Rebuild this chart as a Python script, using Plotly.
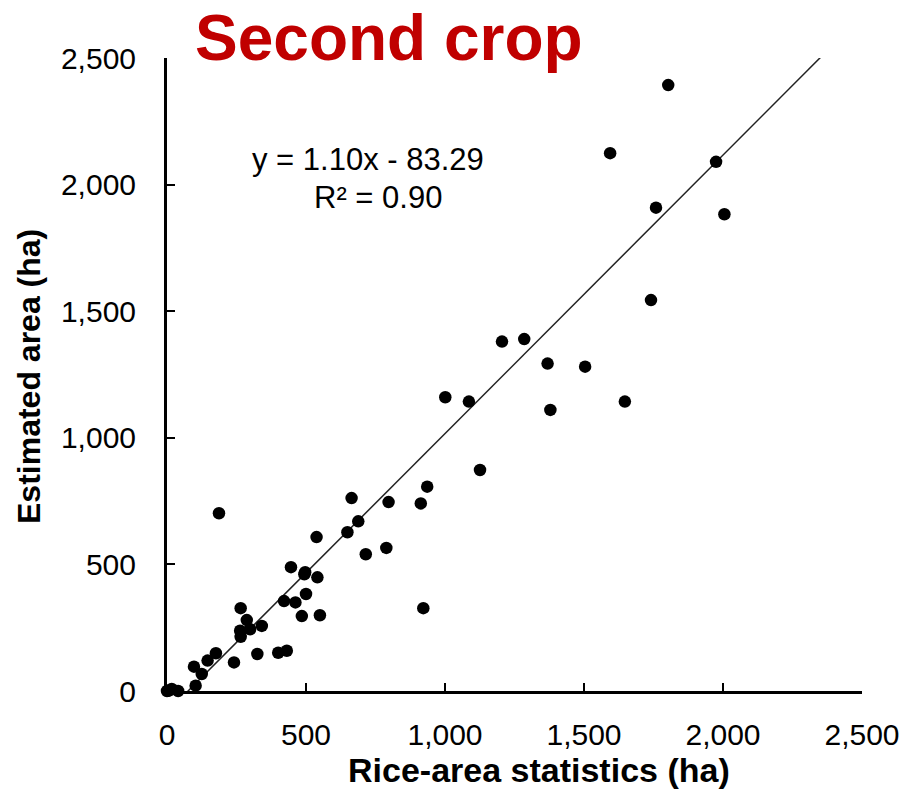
import plotly.graph_objects as go

# rice-area statistics (ha) vs estimated area (ha), second crop
stats_ha = [1803, 1594, 1975, 1759, 2005, 1741, 1504, 1647, 1205, 1285,
            1369, 1379, 1001, 1086, 1126, 936, 913, 797, 664, 688,
            649, 538, 715, 789, 187, 922, 446, 497, 494, 541,
            500, 421, 462, 485, 550, 265, 287, 263, 299, 341,
            265, 400, 431, 325, 241, 176, 146, 97, 125, 103,
            5, 0, 40, 17]
estimated_ha = [2393, 2124, 2090, 1909, 1883, 1544, 1281, 1143, 1380, 1390,
                1293, 1110, 1160, 1143, 873, 807, 741, 746, 762, 670,
                627, 608, 540, 565, 702, 327, 489, 469, 461, 449,
                383, 355, 350, 296, 299, 327, 280, 238, 244, 257,
                214, 151, 159, 146, 113, 149, 120, 96, 67, 21,
                1, 0, 0, 8]

SLOPE, INTERCEPT, R2 = 1.10, -83.29, 0.90
tick_vals = [0, 500, 1000, 1500, 2000, 2500]

FONT = "Arial, Liberation Sans, sans-serif"

fig = go.Figure()

# trendline (clipped by the plot area)
fit_x = [0, 2500]
fit_y = [SLOPE * v + INTERCEPT for v in fit_x]
fig.add_trace(go.Scatter(x=fit_x, y=fit_y, mode="lines",
                         line=dict(color="#222222", width=1.5),
                         showlegend=False, hoverinfo="skip"))

fig.add_trace(go.Scatter(x=stats_ha, y=estimated_ha, mode="markers",
                         marker=dict(color="black", size=12.5),
                         cliponaxis=False, showlegend=False))

axis_common = dict(
    range=[0, 2500], tickvals=tick_vals, tickformat=",",
    showgrid=False, zeroline=False, automargin=False,
    showline=True, linecolor="black", linewidth=3,
    ticks="inside", ticklen=8, tickwidth=2, tickcolor="black",
    tickfont=dict(family=FONT, size=30, color="black"),
    layer="below traces",
)

fig.update_layout(
    width=903, height=793,
    margin=dict(l=167, r=41, t=58, b=102, autoexpand=False),
    plot_bgcolor="white", paper_bgcolor="white",
    xaxis=dict(**axis_common, ticklabelstandoff=15),
    yaxis=dict(**axis_common, ticklabelstandoff=22),
    font=dict(family=FONT, color="black"),
)

fig.add_annotation(text="<b>Second crop</b>", xref="paper", yref="paper",
                   x=0.0374, y=1.0316, xanchor="left", yanchor="middle",
                   showarrow=False, font=dict(size=64, color="#C00000"))
fig.add_annotation(text="<b>Rice-area statistics (ha)</b>", xref="paper", yref="paper",
                   x=0.535, y=-0.1248, xanchor="center", yanchor="middle",
                   showarrow=False, font=dict(size=34))
fig.add_annotation(text="<b>Estimated area (ha)</b>", xref="paper", yref="paper",
                   x=-0.1986, y=0.4976, xanchor="center", yanchor="middle",
                   textangle=-90, showarrow=False, font=dict(size=32))

sign = "-" if INTERCEPT < 0 else "+"
fig.add_annotation(text=f"y = {SLOPE:.2f}x {sign} {abs(INTERCEPT):.2f}",
                   xref="paper", yref="paper", x=0.2885, y=0.839,
                   xanchor="center", yanchor="middle", showarrow=False,
                   font=dict(size=31))
fig.add_annotation(text=f"R² = {R2:.2f}",
                   xref="paper", yref="paper", x=0.3029, y=0.7803,
                   xanchor="center", yanchor="middle", showarrow=False,
                   font=dict(size=31))

# drop the browser's default body margin so the figure fills the window
fig.write_html("out.html", config={"displayModeBar": False},
               post_script="document.body.style.margin = '0';")
